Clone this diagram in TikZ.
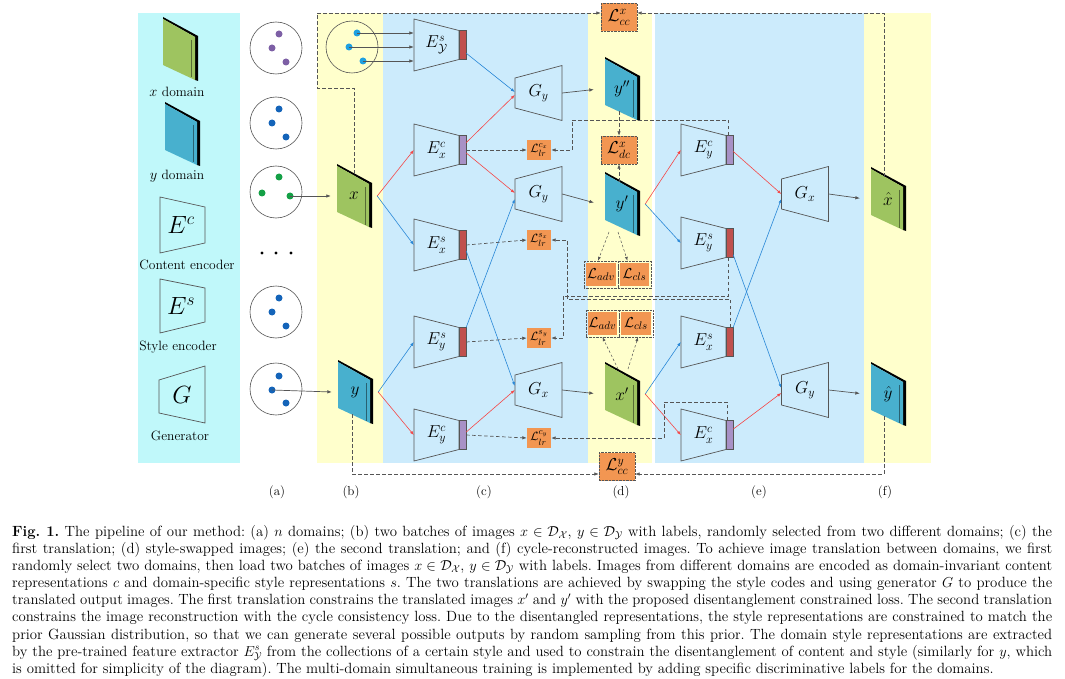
\documentclass[tikz,border=0pt]{standalone}
\usepackage{amsmath,amssymb}
\usetikzlibrary{arrows.meta,calc}
\definecolor{cyanbg}{RGB}{192,248,250}
\definecolor{yellowbg}{RGB}{255,255,204}
\definecolor{bluebg}{RGB}{204,235,252}
\definecolor{lossor}{RGB}{242,150,82}
\definecolor{barred}{RGB}{192,80,77}
\definecolor{barpur}{RGB}{168,145,198}
\definecolor{arrred}{RGB}{245,70,70}
\definecolor{arrblue}{RGB}{40,135,215}
\definecolor{xgreen}{RGB}{158,196,96}
\definecolor{yblue}{RGB}{72,176,206}
\definecolor{dotpur}{RGB}{125,95,165}
\definecolor{dotblue}{RGB}{20,100,185}
\definecolor{dotgreen}{RGB}{20,160,70}
\definecolor{dotcyan}{RGB}{30,160,225}
\definecolor{lineg}{RGB}{85,85,85}
\newcommand\mkenc[5]{%
  \begin{scope}[shift={(#2,#3)}]
    \draw[blockline] (-22.5,-26) -- (22.5,-14.5) -- (22.5,14.5) -- (-22.5,26) -- cycle;
    \node[enclabel] (#1) at (0,0) {#4};
    \node[barnode,fill=#5] (#1b) at (26,0) {};
  \end{scope}}
\newcommand\mkgen[4]{%
  \begin{scope}[shift={(#2,#3)}]
    \draw[blockline] (-23.5,-15) -- (23.5,-27.5) -- (23.5,27.5) -- (-23.5,15) -- cycle;
    \node[genlabel] (#1) at (0,0) {#4};
  \end{scope}}
\newcommand\mkimg[5]{%
  \begin{scope}[shift={(#2,#3)}]
    \fill[black] (-17,-32) -- (18,-13) -- (18,32) -- (15,31) -- (15,-12) -- (-17,-30) -- cycle;
    \fill[#4] (-17,-30) -- (15,-12) -- (15,31) -- (-17,16) -- cycle;
    \draw[#4!55!black,line width=0.6pt] (11.5,-9) -- (11.5,28.5);
    \node[imglabel] (#1) at (0,0) {#5};
  \end{scope}}
\newcommand\capfont{\fontsize{14.8}{17}\selectfont}
\frenchspacing
\begin{document}
\begin{tikzpicture}[x=1pt,y=-1pt,
  blockline/.style={draw=lineg,line width=0.7pt},
  enclabel/.style={inner sep=0pt,minimum width=45pt,minimum height=52pt,font=\fontsize{18}{20}\selectfont},
  genlabel/.style={inner sep=0pt,minimum width=47pt,minimum height=30pt,font=\fontsize{18}{20}\selectfont},
  imglabel/.style={inner sep=0pt,minimum width=46pt,minimum height=44pt,font=\fontsize{17}{20}\selectfont},
  barnode/.style={draw=lineg,line width=0.4pt,inner sep=0pt,minimum width=7pt,minimum height=29pt},
  redarr/.style={draw=arrred,line width=0.6pt,-{Latex[length=4pt,width=3pt]}},
  bluearr/.style={draw=arrblue,line width=0.6pt,-{Latex[length=4pt,width=3pt]}},
  grayarr/.style={draw=lineg,line width=0.7pt,-{Latex[length=4.5pt,width=3.5pt]}},
  dasharr/.style={draw=lineg,line width=0.7pt,dash pattern=on 3.5pt off 2.5pt,-{Latex[length=4.5pt,width=3.5pt]}},
  fanarr/.style={draw=lineg,line width=0.5pt,dash pattern=on 2.5pt off 2pt,-{Latex[length=4pt,width=3pt]}},
  bigloss/.style={fill=lossor,draw=lineg,densely dotted,inner sep=0pt,minimum width=36pt,minimum height=28pt,font=\fontsize{18}{20}\selectfont},
  lrbox/.style={fill=lossor,inner sep=0pt,minimum width=24pt,minimum height=20pt,font=\fontsize{13}{15}\selectfont},
  pairbox/.style={draw=lineg,densely dotted,inner sep=0pt,minimum width=33.5pt,minimum height=27pt,font=\fontsize{15}{17}\selectfont,
    path picture={\fill[lossor] ([shift={(2pt,2pt)}]path picture bounding box.south west) rectangle ([shift={(-2pt,-2pt)}]path picture bounding box.north east);}},
  circ/.style={circle,draw=lineg,line width=0.6pt,minimum size=52pt,inner sep=0pt},
  dotn/.style={circle,inner sep=0pt,minimum size=7pt},
  legtext/.style={font=\fontsize{13.5}{16}\selectfont,inner sep=0pt},
  panlab/.style={font=\fontsize{13}{15}\selectfont,inner sep=0pt},
  capline/.style={anchor=base west,inner sep=0pt,font=\capfont}]
\useasboundingbox (0,0) rectangle (1065,679);
% panels
\fill[cyanbg] (138,13) rectangle (240,463);
\fill[yellowbg] (317,13) rectangle (383,463);
\fill[bluebg] (383,13) rectangle (588,463);
\fill[yellowbg] (588,13) rectangle (652,463);
\fill[bluebg] (655,13) rectangle (864,463);
\fill[yellowbg] (864,13) rectangle (931,463);
% legend
\mkimg{legx}{180}{49}{xgreen}{}
\node[legtext] (legxt) at (177,92) {$x$ domain};
\mkimg{legy}{182}{134}{yblue}{}
\node[legtext] (legyt) at (177,176) {$y$ domain};
\draw[blockline] (160,197) -- (205,207) -- (205,243) -- (160,253) -- cycle;
\node[font=\fontsize{24}{26}\selectfont,inner sep=0pt] (legec) at (181,225) {$E^{c}$};
\node[legtext] (legect) at (187,265) {Content encoder};
\draw[blockline] (160,279) -- (205,288) -- (205,322) -- (160,333) -- cycle;
\node[font=\fontsize{24}{26}\selectfont,inner sep=0pt] (leges) at (181,306) {$E^{s}$};
\node[legtext] (legest) at (178,347) {Style encoder};
\draw[blockline] (159,380) -- (205,366) -- (205,423) -- (159,413) -- cycle;
\node[font=\fontsize{24}{26}\selectfont,inner sep=0pt] (legg) at (182,395) {$G$};
\node[legtext] (leggt) at (180,436) {Generator};
% column (a)
\node[circ] (ca1) at (276,48) {};
\node[dotn,fill=dotpur] (ca1a) at (279,34) {};
\node[dotn,fill=dotpur] (ca1b) at (272,48) {};
\node[dotn,fill=dotpur] (ca1c) at (286,62) {};
\node[circ] (ca2) at (276,123) {};
\node[dotn,fill=dotblue] (ca2a) at (279,109) {};
\node[dotn,fill=dotblue] (ca2b) at (272,123) {};
\node[dotn,fill=dotblue] (ca2c) at (286,137) {};
\node[circ] (ca3) at (276,192) {};
\node[dotn,fill=dotgreen] (ca3a) at (279,177) {};
\node[dotn,fill=dotgreen] (ca3b) at (262,193) {};
\node[dotn,fill=dotgreen] (ca3c) at (290,196) {};
\node[circle,fill=black,inner sep=0pt,minimum size=3.2pt] (el1) at (262,253) {};
\node[circle,fill=black,inner sep=0pt,minimum size=3.2pt] (el2) at (276,253) {};
\node[circle,fill=black,inner sep=0pt,minimum size=3.2pt] (el3) at (291,253) {};
\node[circ] (ca4) at (276,312) {};
\node[dotn,fill=dotblue] (ca4a) at (279,298) {};
\node[dotn,fill=dotblue] (ca4b) at (272,312) {};
\node[dotn,fill=dotblue] (ca4c) at (286,326) {};
\node[circ] (ca5) at (276,389) {};
\node[dotn,fill=dotblue] (ca5a) at (279,376) {};
\node[dotn,fill=dotblue] (ca5b) at (272,390) {};
\node[dotn,fill=dotblue] (ca5c) at (286,403) {};
% column (b)
\node[circ] (cb) at (352,47) {};
\node[dotn,fill=dotcyan] (cba) at (357,33) {};
\node[dotn,fill=dotcyan] (cbb) at (349,47) {};
\node[dotn,fill=dotcyan] (cbc) at (363,61) {};
\mkimg{ximg}{354}{196}{xgreen}{$x$}
\mkimg{yimg}{355}{392}{yblue}{$y$}
% column (c)
\mkenc{Eys1}{436.5}{45}{$E^{s}_{\mathcal{Y}}$}{barred}
\mkenc{Exc}{436.5}{150}{$E^{c}_{x}$}{barpur}
\mkenc{Exs}{436.5}{245}{$E^{s}_{x}$}{barred}
\mkenc{Eys2}{436.5}{342}{$E^{s}_{y}$}{barred}
\mkenc{Eyc}{436.5}{435}{$E^{c}_{y}$}{barpur}
\mkgen{Gy1}{538.5}{93}{$G_{y}$}
\mkgen{Gy2}{538.5}{194}{$G_{y}$}
\mkgen{Gx}{538.5}{390}{$G_{x}$}
\node[lrbox] (Llrcx) at (539,150) {$\mathcal{L}^{c_x}_{lr}$};
\node[lrbox] (Llrsx) at (539,240) {$\mathcal{L}^{s_x}_{lr}$};
\node[lrbox] (Llrsy) at (539,338) {$\mathcal{L}^{s_y}_{lr}$};
\node[lrbox] (Llrcy) at (539,438) {$\mathcal{L}^{c_y}_{lr}$};
% column (d)
\mkimg{yss}{622}{89}{yblue}{$y''$}
\mkimg{yp}{622}{204}{yblue}{$y'$}
\mkimg{xp}{622}{394}{xgreen}{$x'$}
\node[bigloss] (Lccx) at (619,17.5) {$\mathcal{L}^{x}_{cc}$};
\node[bigloss] (Ldcx) at (619,150) {$\mathcal{L}^{x}_{dc}$};
\node[bigloss] (Lccy) at (617,466.5) {$\mathcal{L}^{y}_{cc}$};
\node[pairbox] (adv1) at (601,274.5) {$\mathcal{L}_{adv}$};
\node[pairbox] (cls1) at (634.5,274.5) {$\mathcal{L}_{cls}$};
\node[pairbox] (adv2) at (602.5,323.5) {$\mathcal{L}_{adv}$};
\node[pairbox] (cls2) at (636,323.5) {$\mathcal{L}_{cls}$};
% column (e)
\mkenc{Eyce}{703.5}{150}{$E^{c}_{y}$}{barpur}
\mkenc{Eyse}{703.5}{243}{$E^{s}_{y}$}{barred}
\mkenc{Exse}{703.5}{342}{$E^{s}_{x}$}{barred}
\mkenc{Exce}{703.5}{435}{$E^{c}_{x}$}{barpur}
\mkgen{Gxe}{805}{194}{$G_{x}$}
\mkgen{Gye}{805}{390}{$G_{y}$}
% column (f)
\mkimg{xhat}{888}{199}{xgreen}{$\hat{x}$}
\mkimg{yhat}{888}{394}{yblue}{$\hat{y}$}
% panel labels
\node[panlab] (la) at (277,492) {(a)};
\node[panlab] (lb) at (351,492) {(b)};
\node[panlab] (lc) at (484,492) {(c)};
\node[panlab] (ld) at (621,492) {(d)};
\node[panlab] (le) at (759,492) {(e)};
\node[panlab] (lf) at (885,492) {(f)};
% input arrows
\draw[grayarr] (ca3c.center) -- (ximg.west);
\draw[grayarr] (ca5b.center) -- (yimg.west);
\draw[grayarr] (cba.center) -- (cba -| Eys1.west);
\draw[grayarr] (cbb.center) -- (cbb -| Eys1.west);
\draw[grayarr] (cbc.center) -- (cbc -| Eys1.west);
% first translation
\draw[redarr] (ximg.east) -- (Exc.west);
\draw[bluearr] (ximg.east) -- (Exs.west);
\draw[bluearr] (yimg.east) -- (Eys2.west);
\draw[redarr] (yimg.east) -- (Eyc.west);
\draw[bluearr] ($(Eys1b.north east)!0.78!(Eys1b.south east)$) -- ([yshift=1pt]Gy1.west);
\draw[redarr] ($(Excb.north east)!0.25!(Excb.south east)$) -- ([yshift=-2pt]Gy1.west);
\draw[redarr] ($(Excb.north east)!0.6!(Excb.south east)$) -- ([yshift=1pt]Gy2.west);
\draw[bluearr] (Eys2b.north east) -- ([yshift=-5pt]Gy2.west);
\draw[bluearr] ($(Exsb.north east)!0.7!(Exsb.south east)$) -- ([yshift=4pt]Gx.west);
\draw[redarr] ($(Eycb.north east)!0.4!(Eycb.south east)$) -- ([yshift=0pt]Gx.west);
\draw[grayarr,shorten >=5pt] (Gy1.east) -- (yss.west);
\draw[grayarr,shorten >=5pt] (Gy2.east) -- (yp.west);
\draw[grayarr,shorten >=5pt] (Gx.east) -- (xp.west);
% second translation
\draw[redarr] (yp.east) -- (Eyce.west);
\draw[bluearr] (yp.east) -- (Eyse.west);
\draw[bluearr] (xp.east) -- (Exse.west);
\draw[redarr] (xp.east) -- (Exce.west);
\draw[redarr] ($(Eyceb.north east)!0.55!(Eyceb.south east)$) -- ([yshift=0pt]Gxe.west);
\draw[bluearr] (Exseb.north east) -- ([yshift=-5pt]Gxe.west);
\draw[bluearr] ($(Eyseb.north east)!0.9!(Eyseb.south east)$) -- ([yshift=2pt]Gye.west);
\draw[redarr] ($(Exceb.north east)!0.3!(Exceb.south east)$) -- ([yshift=-3pt]Gye.west);
\draw[grayarr,shorten >=5pt] (Gxe.east) -- (xhat.west);
\draw[grayarr,shorten >=5pt] (Gye.east) -- (yhat.west);
% latent reconstruction losses
\draw[dasharr] (Excb.east) -- (Llrcx.west);
\draw[dasharr] (Exsb.east) -- (Llrsx.west);
\draw[dasharr] (Eys2b.east) -- (Llrsy.west);
\draw[dasharr] (Eycb.east) -- (Llrcy.west);
\coordinate (k1) at (572,120);
\coordinate (k2) at (567,299);
\coordinate (k3) at (563,296);
\coordinate (k4) at (664,402);
\draw[dasharr] ([xshift=-1pt]Eyceb.north) |- (k1) |- (Llrcx.east);
\draw[dasharr] ([xshift=1pt]Exseb.north) |- (k2) |- (Llrsx.east);
\draw[dasharr] ([xshift=-1pt]Eyseb.south) |- (k3) |- (Llrsy.east);
\draw[dasharr] ([xshift=-2pt]Exceb.north) |- (k4) |- (Llrcy.east);
% disentanglement loss
\draw[dasharr] (Ldcx.north |- yss.south) -- (Ldcx.north);
\draw[dasharr] (Ldcx.south |- yp.north) -- (Ldcx.south);
% adversarial / classification
\draw[fanarr] ($(yp.center)+(-13,28)$) -- ($(adv1.north)+(-3,0)$);
\draw[fanarr] ($(yp.center)+(-4,28)$) -- ($(cls1.north)+(-7,0)$);
\draw[fanarr] ($(xp.center)+(-4,-25)$) -- ($(adv2.south)+(0,0)$);
\draw[fanarr] ($(xp.center)+(6,-25)$) -- ($(cls2.south)+(2,0)$);
% cycle consistency
\coordinate (t1) at (317,88);
\coordinate (t2) at (317,13);
\coordinate (b1) at (352,474);
\draw[dasharr] (ximg.north) |- (t1) -- (t2) -- (Lccx.west |- t2);
\draw[dasharr] ([xshift=-4pt]xhat.north) |- (Lccx.east |- t2);
\draw[dasharr] ([xshift=-3pt]yimg.south) |- (Lccy.west |- b1);
\draw[dasharr] ([xshift=-4pt]yhat.south) |- (Lccy.east |- b1);
% caption
\node[capline] (cap1) at (12,536) {\makebox[1040pt][s]{\textbf{Fig. 1.} The pipeline of our method: (a) $n$ domains; (b) two batches of images $x\in\mathcal{D}_{\mathcal{X}}$, $y\in\mathcal{D}_{\mathcal{Y}}$ with labels, randomly selected from two different domains; (c) the}};
\node[capline] (cap2) at (12,553) {\makebox[1040pt][s]{first translation; (d) style-swapped images; (e) the second translation; and (f) cycle-reconstructed images. To achieve image translation between domains, we first}};
\node[capline] (cap3) at (12,570.5) {\makebox[1040pt][s]{randomly select two domains, then load two batches of images $x\in\mathcal{D}_{\mathcal{X}}$, $y\in\mathcal{D}_{\mathcal{Y}}$ with labels. Images from different domains are encoded as domain-invariant content}};
\node[capline] (cap4) at (12,587.5) {\makebox[1040pt][s]{representations $c$ and domain-specific style representations $s$. The two translations are achieved by swapping the style codes and using generator $G$ to produce the}};
\node[capline] (cap5) at (12,604.5) {\makebox[1040pt][s]{translated output images. The first translation constrains the translated images $x'$ and $y'$ with the proposed disentanglement constrained loss. The second translation}};
\node[capline] (cap6) at (12,621.5) {\makebox[1040pt][s]{constrains the image reconstruction with the cycle consistency loss. Due to the disentangled representations, the style representations are constrained to match the}};
\node[capline] (cap7) at (12,639) {\makebox[1040pt][s]{prior Gaussian distribution, so that we can generate several possible outputs by random sampling from this prior. The domain style representations are extracted}};
\node[capline] (cap8) at (12,656) {\makebox[1040pt][s]{by the pre-trained feature extractor $E^{s}_{\mathcal{Y}}$ from the collections of a certain style and used to constrain the disentanglement of content and style (similarly for $y$, which}};
\node[capline] (cap9) at (12,673) {is omitted for simplicity of the diagram). The multi-domain simultaneous training is implemented by adding specific discriminative labels for the domains.};
\end{tikzpicture}
\end{document}
